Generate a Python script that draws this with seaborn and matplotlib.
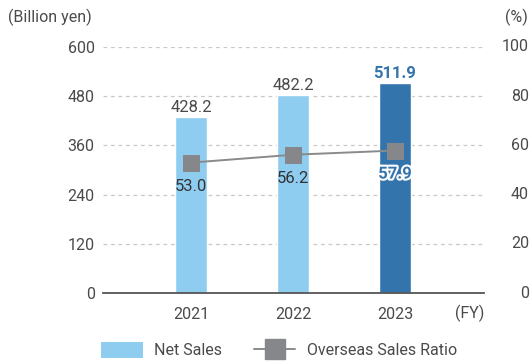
import numpy as np
import matplotlib
matplotlib.use("Agg")
import matplotlib.pyplot as plt
import matplotlib.patheffects as pe
import matplotlib.transforms as mtransforms
from matplotlib.patches import Patch
from matplotlib.lines import Line2D
import seaborn as sns

years = ["2021", "2022", "2023"]
net_sales = [428.2, 482.2, 511.9]
overseas_ratio = [53.0, 56.2, 57.9]
left_ticks = [0, 120, 240, 360, 480, 600]
right_ticks = [0, 20, 40, 60, 80, 100]

LIGHT = "#8fcdf0"
DARK = "#3474ad"
GRAY = "#86878a"
TEXT = "#4a4a4a"

sns.set_theme(style="white")
plt.rcParams["font.family"] = ["Roboto", "DejaVu Sans"]
FS = 11.5

fig = plt.figure(figsize=(5.32, 3.64), dpi=100)
W, H = 532, 364
ax = fig.add_axes([103 / W, (H - 293) / H, 381 / W, 246 / H])

bar_colors = [LIGHT, LIGHT, DARK]
sns.barplot(x=years, y=net_sales, hue=years, palette=bar_colors, legend=False,
            width=0.31, saturation=1, ax=ax, zorder=2)
ax.set_xlim(-0.863, 2.873)
ax.set_ylim(0, 600)
ax.set_yticks(left_ticks)
ax.set_xlabel("")
ax.set_ylabel("")
for s in ["left", "right", "top"]:
    ax.spines[s].set_visible(False)
ax.spines["bottom"].set_color("#555555")
ax.spines["bottom"].set_linewidth(1.3)
ax.tick_params(axis="both", length=0, labelsize=FS, colors=TEXT)
ax.tick_params(axis="y", pad=6)
ax.tick_params(axis="x", pad=10)
for y in left_ticks[1:]:
    ax.axhline(y, color="#c8c8c8", lw=0.9, ls=(0, (3, 3)), zorder=0)

# bar value labels
for i, v in enumerate(net_sales):
    last = i == len(net_sales) - 1
    ax.text(i, v + 6, f"{v:.1f}", ha="center", va="bottom", fontsize=FS + 0.5,
            color=DARK if last else TEXT, fontweight="bold" if last else "normal",
            zorder=5)

ax2 = ax.twinx()
ax2.set_ylim(0, 100)
ax2.set_yticks(right_ticks)
ax2.set_yticklabels([])
for s in ["left", "right", "top", "bottom"]:
    ax2.spines[s].set_visible(False)
ax2.tick_params(axis="y", length=0)

# right-axis labels, right-aligned near the figure edge
rtrans = mtransforms.blended_transform_factory(fig.transFigure, ax2.transData)
for t in right_ticks:
    ax2.text(529 / W, t, f"{t}", transform=rtrans, ha="right", va="center",
             fontsize=FS, color=TEXT, clip_on=False)

xpos = np.arange(len(years))
sns.lineplot(x=xpos, y=overseas_ratio, ax=ax2, color="#8a8a8a", lw=1.4,
             marker="s", markersize=11, markerfacecolor=GRAY,
             markeredgecolor=GRAY, zorder=4)
ax2.set_xlim(-0.863, 2.873)
ax2.set_ylabel("")

for i, v in enumerate(overseas_ratio):
    last = i == len(overseas_ratio) - 1
    t = ax2.text(i, v - 6.5, f"{v:.1f}", ha="center", va="top", fontsize=FS + 0.5,
                 color=DARK if last else "#333333",
                 fontweight="bold" if last else "normal", zorder=6)
    if last:
        t.set_path_effects([pe.withStroke(linewidth=3, foreground="white")])

ax.text(1.0, -20 / 246, "(FY)", transform=ax.transAxes, ha="right",
        va="center", fontsize=FS, color=TEXT)
fig.text(8 / W, 1 - 17 / H, "(Billion yen)", ha="left", va="center",
         fontsize=FS, color=TEXT)
fig.text(528 / W, 1 - 17 / H, "(%)", ha="right", va="center",
         fontsize=FS, color=TEXT)

handles = [
    Patch(facecolor=LIGHT, edgecolor="none", label="Net Sales"),
    Line2D([0], [0], color="#8a8a8a", lw=1.4, marker="s", markersize=14,
           markerfacecolor=GRAY, markeredgecolor=GRAY,
           label="Overseas Sales Ratio"),
]
fig.legend(handles=handles, loc="center", bbox_to_anchor=(279 / W, 1 - 350 / H),
           ncol=2, frameon=False, fontsize=FS, handlelength=2.6,
           handleheight=1.15, columnspacing=2.0, handletextpad=0.7,
           labelcolor=TEXT)

fig.savefig("out.png", dpi=100)
